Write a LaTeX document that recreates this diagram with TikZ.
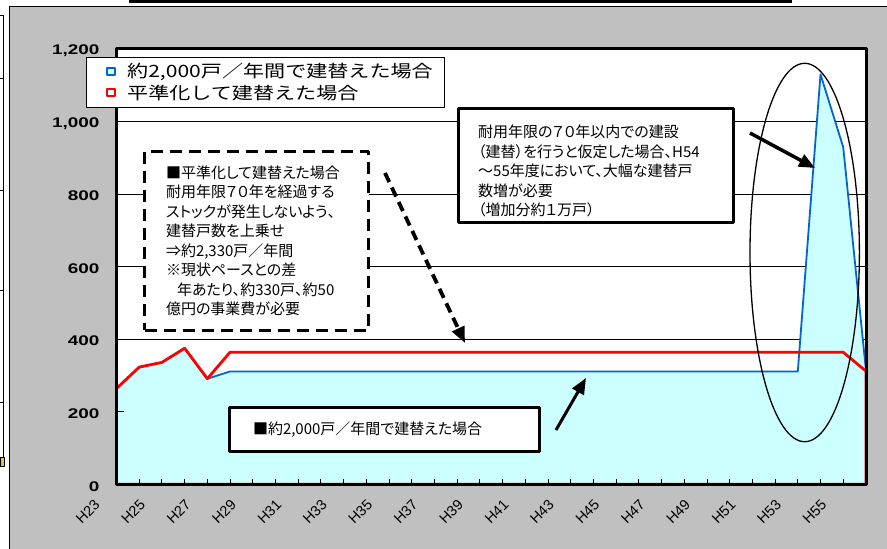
\documentclass[tikz,border=0pt]{standalone}
\usepackage{fontspec}
\usepackage{graphicx}
\setmainfont{Noto Sans CJK JP}[RawFeature={+palt}]
\newfontfamily\cjkfull{Noto Sans CJK JP}
\newfontfamily\arialf{Liberation Sans}
\usetikzlibrary{arrows.meta,shapes.geometric}
\definecolor{chartgray}{HTML}{C0C0C0}
\definecolor{areacyan}{HTML}{CCFFFF}
\definecolor{seriesblue}{HTML}{0066CC}
\definecolor{seriesred}{HTML}{FF0000}
\definecolor{iconyellow}{HTML}{D8C060}
\begin{document}
\begin{tikzpicture}[x=1pt, y=-1pt,
  declare function={X(\i)=116.5+22.71*\i; Y(\v)=484.3-0.36283*\v;},
  gridline/.style={line width=0.8pt, black},
  ylab/.style={anchor=east, inner sep=0, font=\arialf\bfseries\fontsize{14}{14}\selectfont},
  xlab/.style={anchor=north east, inner sep=0, font=\arialf\fontsize{14.5}{14.5}\selectfont},
  legtext/.style={anchor=west, inner sep=0, font=\cjkfull\fontsize{17}{17}\selectfont},
  textbox/.style={draw, line width=3pt, fill=white, inner sep=0},
  boxtext/.style={inner sep=0, align=left, font=\fontsize{15}{19.5}\selectfont},
  callout/.style={line width=3.5pt, -{Triangle[length=16pt,width=13pt]}},
  line join=round]
\useasboundingbox (0,0) rectangle (887,549);

% outer chart area
\fill[chartgray] (9.5,6.3) rectangle (887,549);
\draw[line width=0.9pt] (887,6.3) -- (9.5,6.3) -- (9.5,549);
\fill[black] (129.3,0) rectangle (791.7,2.7);

% fragments of a neighbouring graphic at the left edge
\draw[line width=0.9pt] (3.3,15) -- (3.3,463);
\foreach \yy in {15,78,190,290,402} \draw[line width=0.9pt] (0,\yy) -- (3.3,\yy);
\fill[iconyellow] (0,457) rectangle (4.5,466);
\draw[line width=0.5pt] (0,457) rectangle (4.5,466);

% plot area
\fill[white] (116.5,48.9) rectangle (866.5,484.3);
\foreach \v in {200,400,600,800,1000}
  \draw[gridline] (116.5,{Y(\v)}) -- (866.5,{Y(\v)});

% blue series (area)
\draw[fill=areacyan, draw=seriesblue, line width=1.8pt]
  ({X(0)},{Y(0)}) -- ({X(0)},{Y(264)}) -- ({X(1)},{Y(323)}) -- ({X(2)},{Y(336)})
  -- ({X(3)},{Y(375)}) -- ({X(4)},{Y(291)}) -- ({X(5)},{Y(311)}) -- ({X(30)},{Y(311)})
  -- ({X(31)},{Y(1130)}) -- ({X(32)},{Y(929)}) -- ({X(33)},{Y(315)}) -- ({X(33)},{Y(0)}) -- cycle;

% red series (area, no fill)
\draw[draw=seriesred, line width=2.8pt]
  ({X(0)},{Y(0)}) -- ({X(0)},{Y(264)}) -- ({X(1)},{Y(323)}) -- ({X(2)},{Y(336)})
  -- ({X(3)},{Y(375)}) -- ({X(4)},{Y(291)}) -- ({X(5)},{Y(364)}) -- ({X(32)},{Y(364)})
  -- ({X(33)},{Y(312)}) -- ({X(33)},{Y(0)}) -- cycle;

% ticks
\foreach \i in {1,...,32}
  \draw[line width=0.9pt] ({X(\i)},484.3) -- ++(0,-5);
\foreach \v in {200,400,...,1200}
  \draw[line width=0.9pt] (116.5,{Y(\v)}) -- ++(7,0);

% frame
\draw[line width=3pt] (116.5,48.9) rectangle (866.5,484.3);

% y labels
\foreach \v/\t in {0/0,200/200,400/400,600/600,800/800,1000/{1,000},1200/{1,200}}
  \node[ylab] at (99.5,{Y(\v)+2}) {\scalebox{1.35}[1]{\t}};

% x labels
\foreach \i/\t in {0/H23,2/H25,4/H27,6/H29,8/H31,10/H33,12/H35,14/H37,16/H39,18/H41,20/H43,22/H45,24/H47,26/H49,28/H51,30/H53,32/H55}
  \node[xlab] at ({X(\i)-15.5},498.5) {\rotatebox{45}{\t}};

% legend
\node[draw, line width=0.8pt, fill=white, minimum width=358, minimum height=50, anchor=north west, inner sep=0] (legend) at (86,57) {};
\node[draw=seriesblue, line width=2pt, fill=areacyan, minimum width=8, minimum height=7, inner sep=0] (mkblue) at (110.5,71) {};
\node[legtext] (legblue) at (127,71.5) {\scalebox{1.24}[1]{約2,000戸／年間で建替えた場合}};
\node[draw=seriesred, line width=2pt, fill=white, minimum width=8, minimum height=7, inner sep=0] (mkred) at (110.5,92.5) {};
\node[legtext] (legred) at (127,93.5) {\scalebox{1.24}[1]{平準化して建替えた場合}};

% ellipse highlight
\node[ellipse, draw, line width=1.3pt, minimum width=109.4, minimum height=378.4, inner sep=0] (oval) at (804.7,252.5) {};

% dashed text box
\node[boxtext, draw, line width=3pt, dash pattern=on 12pt off 7pt, fill=white,
      minimum width=224, minimum height=178.7, text width=181, inner xsep=21.5] (boxlevel) at (256.5,240.8)
  {■平準化して建替えた場合\\
   耐用年限７０年を経過する\\
   ストックが発生しないよう、\\
   建替戸数を上乗せ\\
   ⇒約2,330戸／年間\\
   ※現状ペースとの差\\
   \hspace*{11pt}年あたり、約330戸、約50\\
   億円の事業費が必要};

% upper right text box
\node[textbox, minimum width=275.3, minimum height=114] (boxpeak) at (595.8,165.5) {};
\node[boxtext, anchor=west] (boxpeaktext) at (478,171)
  {耐用年限の７０年以内での建設\\
   （建替）を行うと仮定した場合、H54\\
   ～55年度において、大幅な建替戸\\
   数増が必要\\
   （増加分約１万戸）};

% bottom text box
\node[textbox, boxtext, minimum width=309.4, minimum height=43.7, text width=263, inner xsep=23.2] (boxcur) at (384.5,429.4)
  {■約2,000戸／年間で建替えた場合};

% arrows
\coordinate (peakfrom) at (750,133);
\coordinate (peakto) at (815,168);
\draw[callout] (peakfrom) -- (peakto);
\coordinate (levelfrom) at (385,173);
\coordinate (levelto) at (465,343);
\draw[callout, line width=3.8pt, dash pattern=on 10pt off 6pt] (levelfrom) -- (levelto);
\coordinate (curfrom) at (556,430);
\coordinate (curto) at (586,378);
\draw[callout, line width=3pt] (curfrom) -- (curto);
\end{tikzpicture}
\end{document}
